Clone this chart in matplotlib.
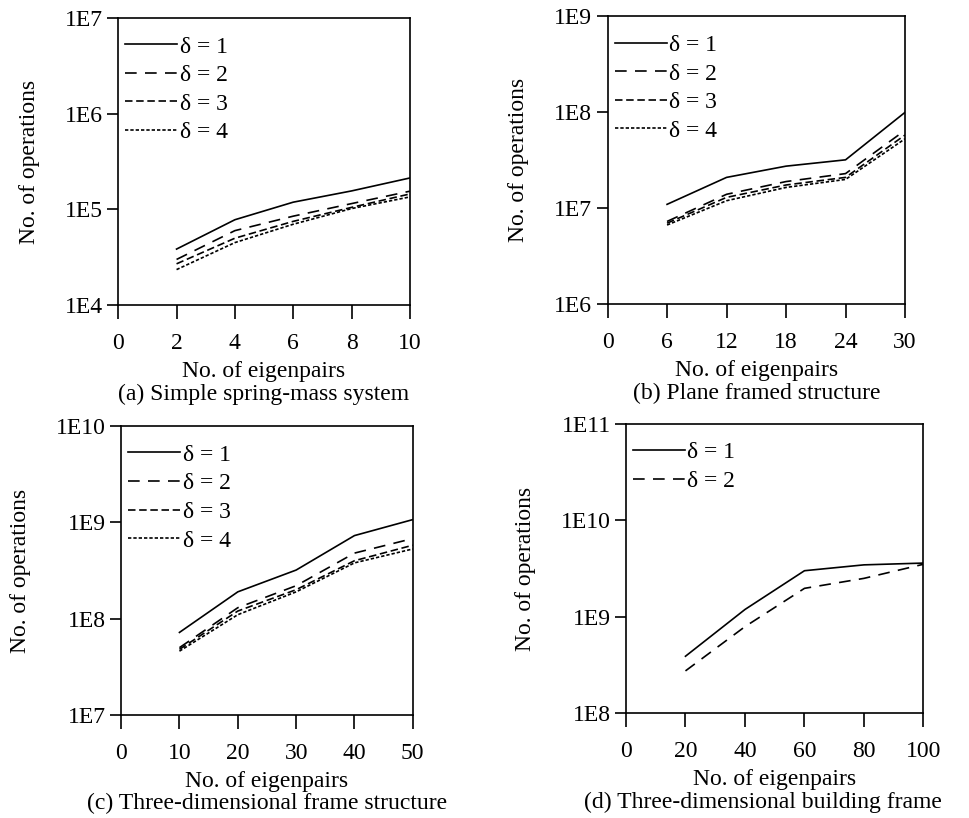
import numpy as np
import matplotlib.pyplot as plt

plt.rcParams['font.family'] = ['Liberation Serif', 'DejaVu Serif']
plt.rcParams['font.size'] = 17

# (a) Simple spring-mass system
a_x = [2, 4, 6, 8, 10]
a_d1 = [3.85e4, 7.8e4, 1.19e5, 1.56e5, 2.13e5]
a_d2 = [3.0e4, 6.0e4, 8.5e4, 1.15e5, 1.55e5]
a_d3 = [2.7e4, 5.0e4, 7.5e4, 1.05e5, 1.45e5]
a_d4 = [2.35e4, 4.5e4, 7.0e4, 1.02e5, 1.35e5]

# (b) Plane framed structure
b_x = [6, 12, 18, 24, 30]
b_d1 = [1.1e7, 2.1e7, 2.75e7, 3.2e7, 1.0e8]
b_d2 = [7.3e6, 1.4e7, 1.9e7, 2.3e7, 6.5e7]
b_d3 = [7.0e6, 1.3e7, 1.75e7, 2.1e7, 5.8e7]
b_d4 = [6.7e6, 1.2e7, 1.65e7, 2.0e7, 5.3e7]

# (c) Three-dimensional frame structure
c_x = [10, 20, 30, 40, 50]
c_d1 = [7.2e7, 1.9e8, 3.2e8, 7.3e8, 1.07e9]
c_d2 = [5.0e7, 1.3e8, 2.2e8, 4.8e8, 6.8e8]
c_d3 = [4.8e7, 1.2e8, 2.0e8, 4.0e8, 5.8e8]
c_d4 = [4.6e7, 1.1e8, 1.9e8, 3.8e8, 5.3e8]

# (d) Three-dimensional building frame
d_x = [20, 40, 60, 80, 100]
d_d1 = [3.9e8, 1.19e9, 3.0e9, 3.45e9, 3.6e9]
d_d2 = [2.75e8, 7.9e8, 1.97e9, 2.5e9, 3.5e9]

labels = ['\u03b4 = 1', '\u03b4 = 2', '\u03b4 = 3', '\u03b4 = 4']
styles = ['-', (0, (7, 5)), (0, (4.5, 2.2)), (0, (2, 1.2))]


def panel(ax, x, series, xticks, ylo, yhi, caption, cap_x=0.5):
    for i, y in enumerate(series):
        ax.plot(x, y, color='black', linestyle=styles[i], linewidth=1.2,
                label=labels[i])
    ax.set_yscale('log')
    ax.set_ylim(10.0 ** ylo, 10.0 ** yhi)
    ax.set_xlim(0, xticks[-1])
    ax.set_xticks(xticks)
    ax.set_xticklabels([str(t) for t in xticks])
    exps = list(range(ylo, yhi + 1))
    ax.set_yticks([10.0 ** e for e in exps])
    ax.set_yticklabels(['1E%d' % e for e in exps])
    ax.minorticks_off()
    ax.tick_params(axis='y', direction='out', length=8, width=1.2, pad=3)
    ax.tick_params(axis='x', direction='out', length=10, width=1.2, pad=10)
    for s in ax.spines.values():
        s.set_linewidth(1.2)
    ax.set_ylabel('No. of operations', labelpad=18)
    ax.set_xlabel('No. of eigenpairs', labelpad=5)
    ax.annotate(caption, xy=(cap_x, 0), xycoords='axes fraction',
                xytext=(0, -64), textcoords='offset points',
                ha='center', va='center')
    ax.legend(loc='upper left', bbox_to_anchor=(0, 0.962), frameon=False,
              handlelength=2.2, handletextpad=0.1, labelspacing=0.3,
              borderaxespad=0, borderpad=0.3, fontsize=17)


fig = plt.figure(figsize=(9.69, 8.18), dpi=100)
ax_a = fig.add_axes([0.122, 0.627, 0.301, 0.351])
ax_b = fig.add_axes([0.627, 0.628, 0.307, 0.352])
ax_c = fig.add_axes([0.125, 0.126, 0.301, 0.353])
ax_d = fig.add_axes([0.646, 0.128, 0.307, 0.354])

panel(ax_a, a_x, [a_d1, a_d2, a_d3, a_d4], [0, 2, 4, 6, 8, 10], 4, 7,
      '(a) Simple spring-mass system')
panel(ax_b, b_x, [b_d1, b_d2, b_d3, b_d4], [0, 6, 12, 18, 24, 30], 6, 9,
      '(b) Plane framed structure')
panel(ax_c, c_x, [c_d1, c_d2, c_d3, c_d4], [0, 10, 20, 30, 40, 50], 7, 10,
      '(c) Three-dimensional frame structure')
panel(ax_d, d_x, [d_d1, d_d2], [0, 20, 40, 60, 80, 100], 8, 11,
      '(d) Three-dimensional building frame', cap_x=0.46)

fig.savefig('out.png', dpi=100)
